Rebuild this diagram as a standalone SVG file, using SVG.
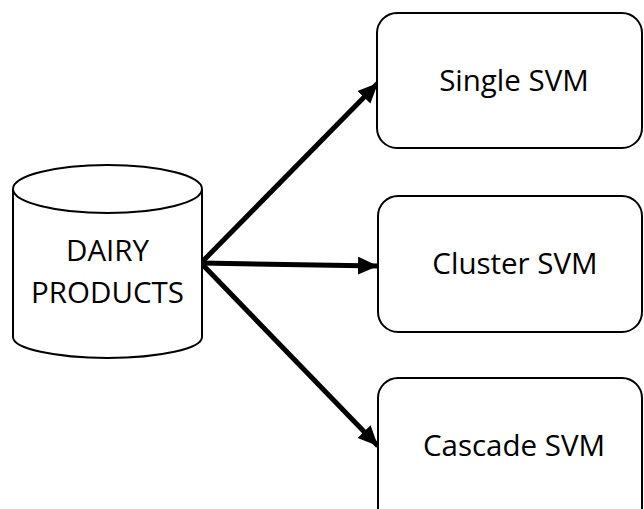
<svg xmlns="http://www.w3.org/2000/svg" width="644" height="509" viewBox="0 0 644 509">
<defs>
<style>
.shape{fill:#fff;stroke:#000;stroke-width:2}
.lbl{font-family:"Open Sans","Liberation Sans",sans-serif;font-size:29.5px;fill:#000;text-anchor:middle}
.conn{stroke:#000;stroke-width:5;fill:none}
</style>
<marker id="ah" markerUnits="userSpaceOnUse" markerWidth="22" markerHeight="20" refX="20" refY="9" orient="auto">
<path d="M0,0 L20,9 L0,18 Z" fill="#000"/>
</marker>
</defs>
<rect width="644" height="509" fill="#fff"/>
<g id="connectors">
<line class="conn" x1="201" y1="263" x2="378" y2="83" marker-end="url(#ah)"/>
<line class="conn" x1="201" y1="263" x2="378" y2="266" marker-end="url(#ah)"/>
<line class="conn" x1="201" y1="263" x2="378" y2="446" marker-end="url(#ah)"/>
</g>
<g id="dairy">
<path class="shape" d="M13,189 L13,337 A94.5,21 0 0 0 202,337 L202,189"/>
<ellipse class="shape" cx="107.5" cy="189" rx="94.5" ry="24"/>
<text class="lbl" x="107.5" y="261">DAIRY</text>
<text class="lbl" x="107.5" y="303">PRODUCTS</text>
</g>
<g id="single">
<rect class="shape" x="377" y="13" width="265" height="135" rx="20"/>
<text class="lbl" x="514" y="91">Single SVM</text>
</g>
<g id="cluster">
<rect class="shape" x="378" y="196" width="264" height="136" rx="20"/>
<text class="lbl" x="515" y="274">Cluster SVM</text>
</g>
<g id="cascade">
<rect class="shape" x="378" y="378" width="264" height="150" rx="20"/>
<text class="lbl" x="514" y="456">Cascade SVM</text>
</g>
</svg>
